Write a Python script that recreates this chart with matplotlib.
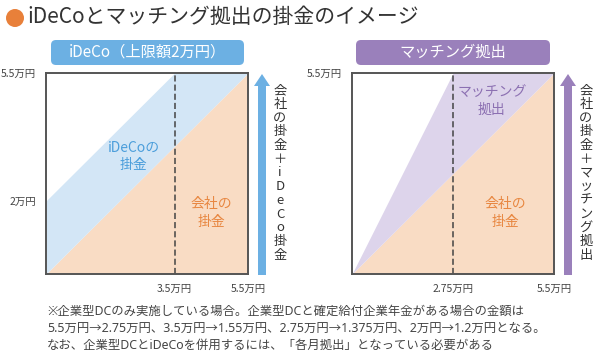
import matplotlib
matplotlib.use('Agg')
import matplotlib.pyplot as plt
from matplotlib.patches import FancyBboxPatch, FancyArrow, Circle

plt.rcParams['font.family'] = ['Noto Sans CJK JP', 'DejaVu Sans']

# data (万円)
max_amount = 5.5
left_x = [0, 3.5, 5.5]
left_company = [0, 3.5, 5.5]
left_total = [2, 5.5, 5.5]        # 会社の掛金 + iDeCo (上限2万円)
left_xticks = [3.5, 5.5]
left_yticks = [2, 5.5]

right_x = [0, 2.75, 5.5]
right_company = [0, 2.75, 5.5]
right_total = [0, 5.5, 5.5]       # 会社の掛金 + マッチング拠出
right_xticks = [2.75, 5.5]
right_yticks = [5.5]

def man(v):
    return '{:g}万円'.format(v)

W, H = 600, 358
fig = plt.figure(figsize=(W / 100, H / 100), dpi=100)

def px_axes(x0, y0, x1, y1):
    return fig.add_axes([x0 / W, 1 - y1 / H, (x1 - x0) / W, (y1 - y0) / H])

blue = '#6cb0e3'
blue_fill = '#d3e6f6'
blue_text = '#4b9edb'
orange_fill = '#f9dcc4'
orange_text = '#e88741'
purple = '#9a80bb'
purple_fill = '#ddd4eb'
purple_text = '#8c70b2'
ink = '#444444'
latin = ['Noto Sans', 'Noto Sans CJK JP']

def draw_panel(ax, x, company, total, top_color, xticks, yticks, split):
    ax.fill_between(x, 0, company, color=orange_fill, lw=0)
    ax.fill_between(x, company, total, color=top_color, lw=0)
    ax.axvline(split, color='#444444', lw=1.1, ls=(0, (4, 2)))
    ax.set_xlim(0, max_amount)
    ax.set_ylim(0, max_amount)
    ax.set_xticks(xticks)
    ax.set_xticklabels([man(v) for v in xticks])
    ax.set_yticks(yticks)
    ax.set_yticklabels([man(v) for v in yticks])
    ax.tick_params(length=0, labelsize=7.5, labelcolor=ink, pad=7)
    for s in ax.spines.values():
        s.set_color('#555555')
        s.set_linewidth(1.4)

ax1 = px_axes(46, 73, 248, 274)
draw_panel(ax1, left_x, left_company, left_total, blue_fill,
           left_xticks, left_yticks, 3.5)
ax2 = px_axes(352, 73, 554, 274)
draw_panel(ax2, right_x, right_company, right_total, purple_fill,
           right_xticks, right_yticks, 2.75)

# overlay in pixel coordinates for headers, arrows and notes
ov = fig.add_axes([0, 0, 1, 1])
ov.set_zorder(10)
ov.set_xlim(0, W)
ov.set_ylim(H, 0)
ov.axis('off')

# region labels
ov.text(134, 156, 'iDeCoの\n掛金', color=blue_text, fontsize=10,
        ha='center', va='center', linespacing=1.3)
ov.text(211, 213, '会社の\n掛金', color=orange_text, fontsize=10,
        ha='center', va='center', linespacing=1.3)
ov.text(492, 101, 'マッチング\n拠出', color=purple_text, fontsize=10,
        ha='center', va='center', linespacing=1.3)
ov.text(505, 213, '会社の\n掛金', color=orange_text, fontsize=10,
        ha='center', va='center', linespacing=1.3)

# header bars
for (x0, x1, col, label) in [(47, 248, blue, 'iDeCo（上限額2万円）'),
                             (352, 554, purple, 'マッチング拠出')]:
    ov.add_patch(FancyBboxPatch((x0 + 4, 40), x1 - x0 - 8, 25,
                                boxstyle='round,pad=0,rounding_size=5',
                                fc=col, ec='none'))
    ov.text((x0 + x1) / 2, 52.5, label, color='white', fontsize=11,
            ha='center', va='center')

# arrows with vertical captions
for (ax_x, col, caption) in [(262, blue, '会社の掛金＋iDeCo掛金'),
                             (568, purple, '会社の掛金＋マッチング拠出')]:
    ov.add_patch(FancyArrow(ax_x, 275, 0, -201, width=8, head_width=16,
                            head_length=12, length_includes_head=True,
                            fc=col, ec='none'))
    top, bottom = 91, 255
    step = (bottom - top) / (len(caption) - 1)
    for i, ch in enumerate(caption):
        ov.text(ax_x + 18, top + i * step, ch, color='#333333', fontsize=9.5,
                ha='center', va='center')

# title
ov.add_patch(Circle((15, 18), 9, fc='#e8803a', ec='none'))
ov.text(27, 17, 'iDeCoとマッチング拠出の掛金のイメージ', color='#333333',
        fontsize=15, ha='left', va='center')

# footnote
notes = [
    '※企業型DCのみ実施している場合。企業型DCと確定給付企業年金がある場合の金額は',
    '5.5万円→2.75万円、3.5万円→1.55万円、2.75万円→1.375万円、2万円→1.2万円となる。',
    'なお、企業型DCとiDeCoを併用するには、「各月拠出」となっている必要がある',
]
for i, line in enumerate(notes):
    ov.text(47, 311 + i * 17, line, color=ink, fontsize=8.9,
            ha='left', va='center', family=latin)

fig.savefig('out.png', dpi=100)
